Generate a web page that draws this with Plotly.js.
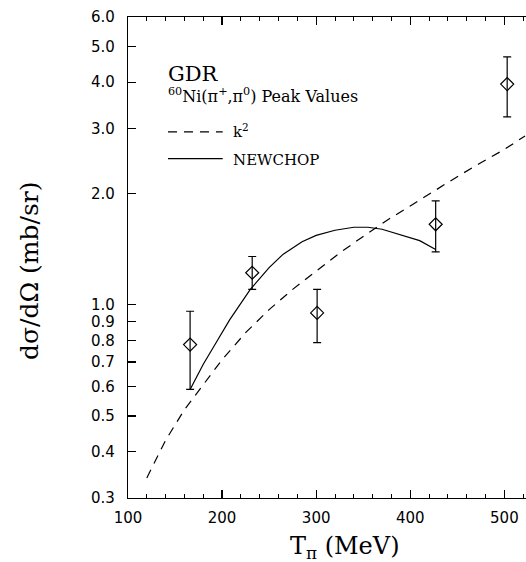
<!DOCTYPE html>
<html>
<head>
<meta charset="utf-8">
<script src="https://cdn.plot.ly/plotly-3.0.1.min.js"></script>
<style>html,body{margin:0;padding:0;background:#fff;overflow:hidden}#chart{width:526px;height:562px}</style>
</head>
<body>
<div id="chart"></div>
<script>
// Data points: 60Ni(pi+,pi0) GDR peak values
var dataT = [166, 232, 301, 427, 503];
var dataY = [0.78, 1.22, 0.95, 1.65, 3.95];
var errPlus = [0.18, 0.13, 0.15, 0.26, 0.73];
var errMinus = [0.19, 0.12, 0.16, 0.26, 0.73];

// k^2 curve (dashed)
var k2T = [120, 140, 160, 180, 200, 225, 250, 275, 300, 325, 350, 375, 400, 425, 450, 475, 500, 522];
var k2Y = [0.34, 0.43, 0.52, 0.61, 0.71, 0.84, 0.97, 1.10, 1.23, 1.38, 1.53, 1.69, 1.85, 2.03, 2.22, 2.42, 2.63, 2.86];

// NEWCHOP curve (solid)
var ncT = [166, 180, 195, 208, 230, 250, 265, 285, 300, 320, 340, 355, 370, 392, 410, 427];
var ncY = [0.59, 0.69, 0.80, 0.91, 1.10, 1.26, 1.37, 1.48, 1.54, 1.59, 1.62, 1.62, 1.60, 1.54, 1.49, 1.41];

var yTicks = [0.3, 0.4, 0.5, 0.6, 0.7, 0.8, 0.9, 1.0, 2.0, 3.0, 4.0, 5.0, 6.0];
var yTickText = ['0.3', '0.4', '0.5', '0.6', '0.7', '0.8', '0.9', '1.0', '2.0', '3.0', '4.0', '5.0', '6.0'];
var xTicks = [100, 200, 300, 400, 500];
var seriesNames = ['k<sup>2</sup>', 'NEWCHOP'];

var serif = 'DejaVu Serif, Liberation Serif, serif';
var sans = 'DejaVu Sans, sans-serif';

var traces = [
  {x: k2T, y: k2Y, mode: 'lines', name: seriesNames[0], showlegend: false,
   line: {color: '#000', width: 1.2, dash: '9px,7px'}},
  {x: ncT, y: ncY, mode: 'lines', name: seriesNames[1], showlegend: false,
   line: {color: '#000', width: 1.2}},
  {x: dataT, y: dataY, mode: 'markers', showlegend: false,
   marker: {symbol: 'diamond-open', size: 10, color: '#000', line: {width: 1.2, color: '#000'}},
   error_y: {type: 'data', symmetric: false, array: errPlus, arrayminus: errMinus,
             color: '#000', thickness: 1.2, width: 4}}
];

var layout = {
  width: 526, height: 562,
  margin: {l: 128, r: 0, t: 17, b: 64},
  paper_bgcolor: '#fff', plot_bgcolor: '#fff',
  showlegend: false,
  xaxis: {
    range: [100, 523], tickvals: xTicks, ticktext: xTicks.map(String),
    ticks: 'inside', ticklen: 8, tickwidth: 1.2, tickcolor: '#000',
    minor: {dtick: 20, tick0: 100, ticks: 'inside', ticklen: 4, tickwidth: 1, tickcolor: '#000'},
    showline: true, linecolor: '#000', linewidth: 1.2, mirror: 'allticks',
    showgrid: false, zeroline: false,
    tickfont: {family: sans, size: 15, color: '#000'},
    ticklabelstandoff: 6
  },
  yaxis: {
    type: 'log', range: [Math.log10(0.3), Math.log10(6.0)],
    tickvals: yTicks, ticktext: yTickText,
    ticks: 'inside', ticklen: 8, tickwidth: 1.2, tickcolor: '#000',
    showline: true, linecolor: '#000', linewidth: 1.2, mirror: false,
    showgrid: false, zeroline: false,
    tickfont: {family: sans, size: 15, color: '#000'},
    ticklabelstandoff: 9
  },
  shapes: [
    {type: 'line', xref: 'paper', yref: 'paper', x0: 0.1005, x1: 0.238, y0: 0.761, y1: 0.761,
     line: {color: '#000', width: 1.2, dash: '9px,7px'}},
    {type: 'line', xref: 'paper', yref: 'paper', x0: 0.1005, x1: 0.238, y0: 0.7055, y1: 0.7055,
     line: {color: '#000', width: 1.2}}
  ],
  annotations: [
    {text: 'GDR', xref: 'paper', yref: 'paper', x: 0.095, y: 0.881, xanchor: 'left', yanchor: 'middle',
     showarrow: false, font: {family: serif, size: 21, color: '#000'}},
    {text: '<sup>60</sup>Ni(π<sup>+</sup>,π<sup>0</sup>) Peak Values', xref: 'paper', yref: 'paper',
     x: 0.095, y: 0.836, xanchor: 'left', yanchor: 'middle',
     showarrow: false, font: {family: serif, size: 16, color: '#000'}},
    {text: seriesNames[0], xref: 'paper', yref: 'paper', x: 0.26, y: 0.764, xanchor: 'left', yanchor: 'middle',
     showarrow: false, font: {family: serif, size: 15, color: '#000'}},
    {text: seriesNames[1], xref: 'paper', yref: 'paper', x: 0.26, y: 0.7027, xanchor: 'left', yanchor: 'middle',
     showarrow: false, font: {family: serif, size: 15, color: '#000'}},
    {text: 'T<sub>π</sub> (MeV)', xref: 'paper', yref: 'paper', x: 0.545, y: -0.102,
     xanchor: 'center', yanchor: 'middle',
     showarrow: false, font: {family: serif, size: 24, color: '#000'}},
    {text: 'dσ/dΩ (mb/sr)', xref: 'paper', yref: 'paper', x: -0.246, y: 0.472,
     xanchor: 'center', yanchor: 'middle', textangle: -90,
     showarrow: false, font: {family: serif, size: 25, color: '#000'}}
  ]
};

Plotly.newPlot('chart', traces, layout, {displayModeBar: false, staticPlot: true});
</script>
</body>
</html>
